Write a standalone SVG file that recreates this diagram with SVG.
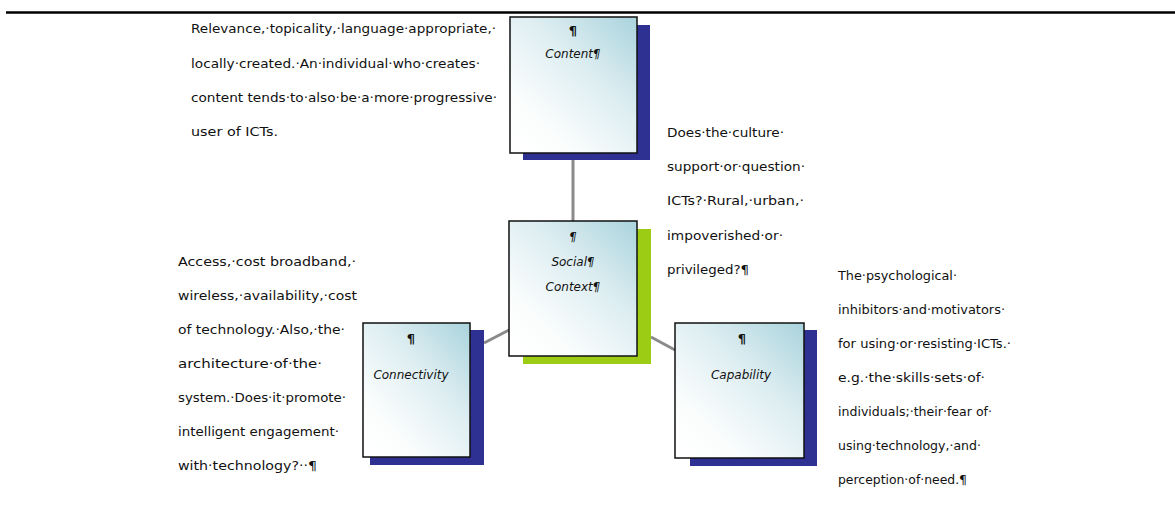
<svg xmlns="http://www.w3.org/2000/svg" width="1175" height="508" viewBox="0 0 1175 508">
<defs>
<linearGradient id="boxg" x1="1" y1="0" x2="0.1" y2="1">
<stop offset="0" stop-color="#a9d3dc"/>
<stop offset="0.4" stop-color="#dcedf1"/>
<stop offset="0.8" stop-color="#fbfdfd"/>
<stop offset="1" stop-color="#ffffff"/>
</linearGradient>
<style>
.t{font-family:"DejaVu Sans","Liberation Sans",sans-serif;font-size:12px;fill:#111}
.l{font-family:"DejaVu Sans","Liberation Sans",sans-serif;font-size:12px;font-style:italic;fill:#111;text-anchor:middle}
.p{font-family:"DejaVu Sans","Liberation Sans",sans-serif;font-size:13px;font-weight:bold;fill:#111;text-anchor:middle}
.box{fill:url(#boxg);stroke:#111;stroke-width:1.5}
.sh{fill:#2e3192}
.shg{fill:#9ccc14}
.c{stroke:#8a8a8a;stroke-width:3;fill:none}
</style>
</defs>
<rect width="1175" height="508" fill="#fff"/>
<line x1="6" y1="12.5" x2="1175" y2="12.5" stroke="#000" stroke-width="2.5"/>
<g id="connectors">
<line class="c" x1="573" y1="153" x2="573" y2="221"/>
<line class="c" x1="509" y1="330" x2="484" y2="343"/>
<line class="c" x1="651" y1="337" x2="675" y2="350"/>
</g>
<g id="content">
<rect class="sh" x="523" y="25" width="127" height="135"/>
<rect class="box" x="510" y="17" width="127" height="136"/>
<text class="p" x="573" y="35">¶</text>
<text class="l" x="573" y="58">Content¶</text>
</g>
<g id="social-context">
<rect class="shg" x="523" y="229" width="128" height="135"/>
<rect class="box" x="509" y="221" width="128" height="135"/>
<text class="l" x="573" y="241">¶</text>
<text class="l" x="573" y="266">Social¶</text>
<text class="l" x="573" y="291">Context¶</text>
</g>
<g id="connectivity">
<rect class="sh" x="370" y="330" width="114" height="135"/>
<rect class="box" x="363" y="323" width="107" height="134"/>
<text class="p" x="411" y="343">¶</text>
<text class="l" x="411" y="379">Connectivity</text>
</g>
<g id="capability">
<rect class="sh" x="690" y="330" width="127" height="136"/>
<rect class="box" x="675" y="323" width="129" height="135"/>
<text class="p" x="742" y="343">¶</text>
<text class="l" x="741" y="379">Capability</text>
</g>
<g id="content-text">
<text class="t" x="191" y="33" textLength="305" lengthAdjust="spacingAndGlyphs">Relevance,·topicality,·language·appropriate,·</text>
<text class="t" x="191" y="68" textLength="289" lengthAdjust="spacingAndGlyphs">locally·created.·An·individual·who·creates·</text>
<text class="t" x="191" y="102" textLength="306" lengthAdjust="spacingAndGlyphs">content tends·to·also·be·a·more·progressive·</text>
<text class="t" x="191" y="136" textLength="87" lengthAdjust="spacingAndGlyphs">user of ICTs.</text>
</g>
<g id="social-text">
<text class="t" x="667" y="137" textLength="117" lengthAdjust="spacingAndGlyphs">Does·the·culture·</text>
<text class="t" x="667" y="171" textLength="138" lengthAdjust="spacingAndGlyphs">support·or·question·</text>
<text class="t" x="667" y="205" textLength="137" lengthAdjust="spacingAndGlyphs">ICTs?·Rural,·urban,·</text>
<text class="t" x="667" y="240" textLength="116" lengthAdjust="spacingAndGlyphs">impoverished·or·</text>
<text class="t" x="667" y="274" textLength="82" lengthAdjust="spacingAndGlyphs">privileged?¶</text>
</g>
<g id="connectivity-text">
<text class="t" x="178" y="266" textLength="178" lengthAdjust="spacingAndGlyphs">Access,·cost broadband,·</text>
<text class="t" x="178" y="300" textLength="179" lengthAdjust="spacingAndGlyphs">wireless,·availability,·cost</text>
<text class="t" x="178" y="334" textLength="167" lengthAdjust="spacingAndGlyphs">of technology.·Also,·the·</text>
<text class="t" x="178" y="368" textLength="144" lengthAdjust="spacingAndGlyphs">architecture·of·the·</text>
<text class="t" x="178" y="402" textLength="168" lengthAdjust="spacingAndGlyphs">system.·Does·it·promote·</text>
<text class="t" x="178" y="436" textLength="161" lengthAdjust="spacingAndGlyphs">intelligent engagement·</text>
<text class="t" x="178" y="470" textLength="139" lengthAdjust="spacingAndGlyphs">with·technology?··¶</text>
</g>
<g id="capability-text">
<text class="t" x="838" y="280" textLength="119" lengthAdjust="spacingAndGlyphs">The·psychological·</text>
<text class="t" x="838" y="314" textLength="167" lengthAdjust="spacingAndGlyphs">inhibitors·and·motivators·</text>
<text class="t" x="838" y="348" textLength="173" lengthAdjust="spacingAndGlyphs">for using·or·resisting·ICTs.·</text>
<text class="t" x="838" y="382" textLength="147" lengthAdjust="spacingAndGlyphs">e.g.·the·skills·sets·of·</text>
<text class="t" x="838" y="416" textLength="154" lengthAdjust="spacingAndGlyphs">individuals;·their·fear of·</text>
<text class="t" x="838" y="450" textLength="143" lengthAdjust="spacingAndGlyphs">using·technology,·and·</text>
<text class="t" x="838" y="484" textLength="129" lengthAdjust="spacingAndGlyphs">perception·of·need.¶</text>
</g>
</svg>
